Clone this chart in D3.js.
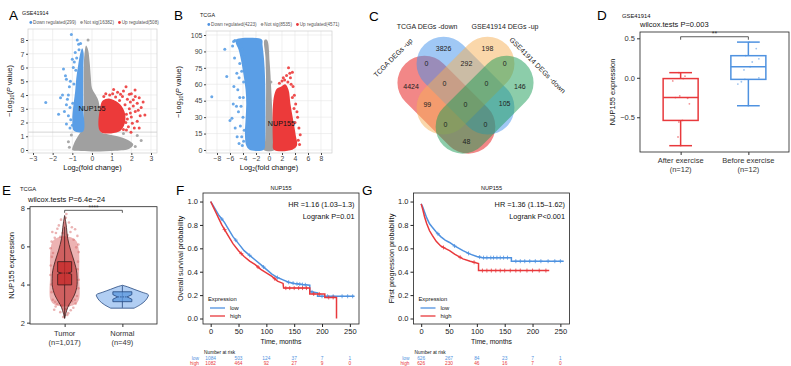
<!DOCTYPE html>
<html>
<head>
<meta charset="utf-8">
<script src="https://cdn.jsdelivr.net/npm/d3@7"></script>
<style>
  body { margin: 0; background: #fff; }
  svg { display: block; font-family: "Liberation Sans", Arial, Helvetica, sans-serif; }
</style>
</head>
<body>
<svg id="fig" width="791" height="366"></svg>
<script>
(function () {
    'use strict';

    var FONT = '"Liberation Sans", Arial, Helvetica, sans-serif';
    var RED = '#e8393c', BLUE = '#4f92e0', GREY = '#a0a0a0';

    // ---------- A: GSE41914 volcano ----------
    var gseLegend = ['Down regulated(299)', 'Not sig(16382)', 'Up regulated(508)'];
    var gseXTicks = [-3, -2, -1, 0, 1, 2, 3];
    var gseYTicks = [0, 1, 2, 3, 4, 5, 6, 7, 8];
    var gseNotSigCloud = [[-1.0, 0.0], [-0.95, 0.35], [-0.8, 0.8], [-0.6, 1.25], [-0.45, 1.6], [-0.42, 3.0], [-0.43, 4.5],
        [-0.42, 6.0], [-0.38, 7.0], [-0.3, 7.6], [-0.2, 7.3], [-0.12, 6.4], [-0.06, 5.3], [0.0, 4.5], [0.15, 4.1],
        [0.3, 3.7], [0.4, 3.0], [0.42, 1.35], [0.8, 1.15], [1.3, 1.0], [1.8, 0.75], [2.1, 0.4], [1.9, 0.1],
        [1.2, -0.05], [0.0, -0.1], [-0.7, -0.05]];
    var gseDownCloud = [[-0.45, 1.35], [-0.92, 1.4], [-1.0, 2.2], [-0.95, 3.2], [-0.86, 4.2], [-0.8, 5.2], [-0.7, 6.2],
        [-0.6, 7.0], [-0.5, 7.4], [-0.43, 7.1], [-0.44, 6.0], [-0.45, 4.5], [-0.44, 3.0]];
    var gseUpCloud = [[0.43, 1.33], [0.43, 3.2], [0.55, 3.6], [0.85, 3.75], [1.15, 3.6], [1.45, 3.3], [1.65, 2.8],
        [1.7, 2.2], [1.6, 1.7], [1.35, 1.33]];
    var gseNotSigPts = [[2.3, 1.05], [2.5, 0.7], [-1.2, 0.6], [-1.05, 1.1], [1.6, 1.2], [2.2, 0.25], [-1.15, 0.2], [-0.2, 8.0]];
    var gseDownPts = [[-2.35, 3.45], [-1.45, 5.9], [-1.35, 5.4], [-1.3, 5.15], [-1.6, 3.8], [-1.5, 4.0], [-1.2, 4.0],
        [-1.25, 3.7], [-1.05, 8.4], [-0.75, 8.0], [-0.68, 7.7], [-0.85, 7.1], [-1.0, 6.6], [-0.95, 6.0], [-1.1, 5.0],
        [-1.15, 4.6], [-1.3, 3.3], [-1.12, 3.1], [-1.4, 2.8], [-1.2, 2.5], [-1.08, 2.2], [-1.3, 1.9], [-1.12, 1.6],
        [-0.98, 3.4], [-0.92, 4.8], [-0.82, 5.8], [-0.66, 7.3], [-0.58, 7.75], [-1.7, 2.6], [-1.0, 1.8], [-0.9, 6.4],
        [-0.78, 6.7]];
    var gseUpPts = [[1.73, 4.6], [2.19, 4.36], [2.69, 2.55], [1.98, 1.3], [2.0, 4.1], [2.2, 3.9], [1.8, 3.7], [1.55, 3.9],
        [1.3, 4.2], [1.1, 4.4], [2.3, 3.4], [2.1, 3.2], [1.9, 3.0], [2.2, 2.8], [1.75, 2.6], [2.0, 2.4], [1.6, 1.5],
        [1.85, 1.7], [2.3, 2.1], [2.5, 3.1], [1.68, 3.3], [1.4, 3.6], [1.6, 4.3], [0.9, 4.0], [0.7, 4.1], [1.2, 3.85],
        [2.05, 1.95], [1.75, 1.45], [2.4, 3.8], [1.95, 3.5], [1.5, 2.9], [1.8, 2.25], [2.15, 1.6], [2.45, 2.5],
        [1.9, 4.05], [1.45, 4.05], [2.1, 3.65], [1.05, 4.1], [2.35, 2.9], [1.95, 2.7], [1.72, 2.0], [1.52, 1.9],
        [2.6, 3.5], [2.4, 1.6], [0.6, 3.9]];
    var gseGene = [[0.0, 3.0, 'NUP155']];

    // ---------- B: TCGA volcano ----------
    var tcgaLegend = ['Down regulated(4223)', 'Not sig(8535)', 'Up regulated(4571)'];
    var tcgaXTicks = [-8, -6, -4, -2, 0, 2, 4, 6, 8];
    var tcgaYTicks = [0, 15, 30, 45, 60, 75, 90, 105];
    var tcgaNotSigCloud = [[-0.8, 0.0], [-0.6, 8], [-0.5, 30], [-0.45, 60], [-0.55, 85], [-0.7, 100.5], [-0.3, 100.5],
        [0.1, 80], [0.35, 55], [0.55, 30], [0.7, 10], [0.85, 0.0]];
    var tcgaDownCloud = [[-5.1, 100.8], [-1.1, 100.8], [-1.0, 96], [-0.75, 82], [-0.6, 65], [-0.55, 45], [-0.55, 25],
        [-0.6, 8], [-0.8, 0.3], [-3.0, 0.3], [-3.5, 4], [-3.7, 14], [-3.6, 28], [-3.5, 42], [-3.6, 55], [-3.9, 68],
        [-4.3, 82], [-4.7, 92], [-5.1, 97.5]];
    var tcgaUpCloud = [[0.75, 0.3], [0.6, 8], [0.55, 25], [0.6, 40], [0.8, 50], [1.2, 56], [1.9, 58], [2.5, 60],
        [3.0, 55], [3.3, 42], [3.7, 28], [4.1, 14], [4.3, 4], [3.6, 0.3]];
    var tcgaDownPts = [[-8.8, 48.7], [-6.8, 92], [-6.5, 67], [-6.0, 27], [-5.7, 29], [-4.5, 79], [-5.4, 58], [-5.2, 20],
        [-4.8, 55], [-4.6, 66], [-4.3, 40], [-4.2, 12], [-4.5, 48], [-4.0, 30], [-4.4, 22], [-4.7, 35], [-3.9, 8],
        [-4.9, 12], [-4.1, 92], [-3.8, 85], [-4.2, 72], [-3.9, 62], [-5.3, 84], [-5.6, 95], [-4.95, 70], [-5.0, 40],
        [-4.1, 4], [-3.8, 18], [-4.6, 6], [-5.5, 42], [-3.95, 48], [-5.25, 100], [-5.45, 99]];
    var tcgaUpPts = [[3.0, 75], [3.6, 71], [2.7, 68], [3.3, 66], [2.4, 64], [3.9, 50], [4.3, 35], [4.6, 20], [4.5, 9],
        [4.1, 42], [3.7, 58], [2.2, 66], [4.8, 14], [3.4, 60], [1.6, 61], [2.0, 63], [4.0, 25], [3.6, 48], [4.4, 30],
        [3.2, 70], [2.9, 62], [4.7, 5], [3.85, 38]];
    var tcgaNotSigPts = [[-0.4, 95], [0.3, 62], [-0.2, 90]];
    var tcgaGene = [[1.9, 24, 'NUP155']];

    // ---------- C: Venn ----------
    var vennSets = ['TCGA DEGs -up', 'TCGA DEGs -down', 'GSE41914 DEGs -up', 'GSE41914 DEGs -down'];
    var vennRegions = ['R', 'B', 'O', 'G', 'RB', 'RO', 'RG', 'BO', 'BG', 'OG', 'RBO', 'RBG', 'ROG', 'BOG', 'RBOG'];
    var vennCounts = [4424, 3826, 198, 146, 0, 99, 48, 292, 105, 0, 0, 0, 0, 0, 0];

    // ---------- D: GSE41914 box plot ----------
    var exerciseGroups = ['After exercise', 'Before exercise'];
    var exerciseN = ['(n=12)', '(n=12)'];
    var exerciseBoxes = [[-0.86, -0.54, -0.25, -0.01, 0.065], [-0.354, -0.02, 0.14, 0.28, 0.452]];
    var afterValues = [0.065, 0.02, -0.04, -0.01, -0.23, -0.26, -0.33, -0.54, -0.56, -0.75, -0.86, -0.25];
    var afterJitter = [-0.1, 0.25, -0.45, 0.15, -0.05, 0.4, 0.5, 0.1, -0.1, -0.15, 0.0, -0.3];
    var beforeValues = [0.452, 0.37, 0.28, 0.24, 0.14, 0.1, 0.0, -0.02, -0.05, -0.08, -0.354, 0.2];
    var beforeJitter = [0.05, 0.45, -0.15, 0.6, 0.1, -0.25, 0.6, -0.2, -0.4, -0.6, 0.0, 0.22];
    var dYTicks = [-0.5, 0.0, 0.5];

    // ---------- E: TCGA violin ----------
    var tissueGroups = ['Tumor', 'Normal'];
    var tissueN = ['(n=1,017)', '(n=49)'];
    var tumorViolin = [[2.22, 0], [2.5, 0.05], [2.8, 0.12], [3.1, 0.24], [3.4, 0.36], [3.7, 0.44], [4.0, 0.48],
        [4.3, 0.48], [4.6, 0.47], [4.9, 0.43], [5.2, 0.37], [5.5, 0.3], [5.8, 0.23], [6.1, 0.17], [6.4, 0.12],
        [6.7, 0.09], [7.0, 0.07], [7.3, 0.04], [7.62, 0]];
    var normalViolin = [[2.76, 0.45], [2.95, 0.7], [3.15, 0.88], [3.35, 0.98], [3.46, 1.0], [3.6, 0.75], [3.75, 0.45],
        [3.88, 0.2], [3.96, 0]];
    var tumorBox = [2.25, 3.98, 4.6, 5.2, 7.03];
    var normalBox = [2.78, 3.1, 3.35, 3.62, 3.94];
    var tumorNotch = 0.06, normalNotch = 0.12;
    var tumorJitterCloud = [[-0.98, 3.2], [-1.0, 4.5], [-0.98, 5.8], [-0.8, 6.3], [-0.3, 6.5], [0.3, 6.5], [0.8, 6.3],
        [0.98, 5.8], [1.0, 4.5], [0.98, 3.2], [0.7, 2.95], [0.0, 2.85], [-0.7, 2.95]];
    var tumorJitter = [[-0.85, 6.75], [0.72, 6.9], [-0.4, 7.1], [0.3, 7.25], [-0.15, 6.7], [0.88, 6.55], [-0.68, 6.45],
        [0.5, 7.0], [0.08, 7.5], [-0.5, 6.92], [0.2, 6.6], [-0.3, 6.5], [0.62, 6.35], [-0.9, 6.25], [0.95, 6.1],
        [-0.97, 5.9], [0.97, 5.7], [-0.88, 5.45], [0.92, 5.2], [-0.96, 5.0], [0.9, 4.8], [-0.98, 4.5], [0.97, 4.25],
        [-0.92, 4.0], [0.95, 3.8], [-0.9, 3.6], [0.85, 3.4], [-0.82, 3.2], [0.76, 3.0], [-0.62, 2.85], [0.42, 2.65],
        [-0.3, 2.55], [0.18, 2.4], [0.6, 2.78], [-0.5, 2.98], [0.05, 2.7], [-0.72, 2.68], [0.5, 3.12], [-0.18, 2.9],
        [0.3, 2.9], [-0.1, 2.3], [0.12, 7.7], [-0.25, 7.4], [0.4, 6.75], [-0.6, 6.7], [0.8, 5.95], [-0.8, 5.65],
        [0.7, 3.2], [-0.65, 3.1], [0.25, 2.5]];
    var eYTicks = [2, 4, 6, 8];

    // ---------- F / G: Kaplan-Meier ----------
    var kmXTicks = [0, 50, 100, 150, 200, 250];
    var kmYTicks = [0, 0.2, 0.4, 0.6, 0.8, 1.0];
    var fLowT = [0, 5, 10, 15, 20, 25, 30, 40, 50, 60, 70, 80, 90, 100, 110, 120, 130, 140, 150, 165, 178, 178, 192, 192, 258];
    var fLowS = [1.0, 0.96, 0.92, 0.88, 0.85, 0.82, 0.78, 0.70, 0.64, 0.58, 0.54, 0.50, 0.46, 0.42, 0.38, 0.35, 0.33,
        0.31, 0.30, 0.29, 0.285, 0.23, 0.22, 0.19, 0.19];
    var fHighT = [0, 5, 10, 15, 20, 25, 30, 40, 50, 60, 70, 80, 90, 100, 110, 120, 130, 131, 178, 178, 205, 205, 226, 226];
    var fHighS = [1.0, 0.95, 0.90, 0.85, 0.80, 0.76, 0.72, 0.64, 0.58, 0.53, 0.49, 0.46, 0.42, 0.39, 0.36, 0.32, 0.30,
        0.26, 0.26, 0.21, 0.21, 0.18, 0.18, 0.0];
    var fLowCens = [20, 45, 70, 95, 120, 140, 148, 155, 160, 165, 170, 182, 200, 210, 220, 236, 246, 255];
    var fHighCens = [25, 55, 85, 115, 135, 142, 150, 158, 165, 172, 185, 195, 212, 220];
    var fRiskLow = [1084, 503, 124, 37, 7, 1];
    var fRiskHigh = [1082, 464, 92, 27, 9, 0];
    var gLowT = [0, 3, 6, 10, 15, 20, 27, 35, 43, 51, 60, 75, 88, 100, 110, 120, 162, 162, 256];
    var gLowS = [0.98, 0.95, 0.91, 0.86, 0.81, 0.78, 0.74, 0.70, 0.67, 0.65, 0.62, 0.58, 0.55, 0.53, 0.52, 0.52, 0.52,
        0.49, 0.49];
    var gHighT = [0, 3, 6, 10, 15, 20, 27, 35, 43, 51, 60, 75, 88, 103, 103, 230];
    var gHighS = [0.98, 0.93, 0.87, 0.81, 0.75, 0.71, 0.66, 0.62, 0.60, 0.58, 0.55, 0.51, 0.49, 0.47, 0.41, 0.41];
    var gLowCens = [30, 60, 85, 105, 112, 118, 125, 130, 136, 142, 148, 155, 170, 178, 186, 195, 205, 215, 228, 240, 250];
    var gHighCens = [40, 70, 95, 110, 118, 126, 134, 142, 150, 160, 170, 178, 190, 200, 212, 224];
    var gRiskLow = [626, 267, 84, 23, 7, 1];
    var gRiskHigh = [626, 230, 46, 16, 7, 0];

    var svg = d3.select('#fig');

    function text(g, x, y, s, size, anchor, fill) {
        return g.append('text').attr('x', x).attr('y', y).attr('font-size', size)
            .attr('text-anchor', anchor || 'start').attr('fill', fill || '#111').text(s);
    }

    function styleAxis(ax, size, color) {
        ax.attr('font-family', FONT).attr('font-size', size);
        ax.selectAll('text').attr('fill', color || '#333');
        ax.selectAll('line').attr('stroke', color || '#333');
    }

    function panelLabel(s, x, y) {
        text(svg, x, y, s, 13.5, 'start', '#000');
    }

    // ---------- volcano ----------
    function volcano(cfg) {
        var g = svg.append('g');
        var x = d3.scaleLinear().domain(cfg.xDom).range([cfg.left, cfg.right]);
        var y = d3.scaleLinear().domain(cfg.yDom).range([cfg.bottom, cfg.top]);
        var clipId = 'clip' + cfg.id;
        g.append('clipPath').attr('id', clipId).append('rect')
            .attr('x', cfg.left).attr('y', cfg.top)
            .attr('width', cfg.right - cfg.left).attr('height', cfg.bottom - cfg.top);

        g.selectAll('.vgrid').data(cfg.xTicks).enter().append('line')
            .attr('x1', function (d) { return x(d); }).attr('x2', function (d) { return x(d); })
            .attr('y1', cfg.top).attr('y2', cfg.bottom)
            .attr('stroke', '#e6e6e6').attr('stroke-width', 0.6);
        g.selectAll('.hgrid').data(cfg.yTicks).enter().append('line')
            .attr('y1', function (d) { return y(d); }).attr('y2', function (d) { return y(d); })
            .attr('x1', cfg.left).attr('x2', cfg.right)
            .attr('stroke', '#e6e6e6').attr('stroke-width', 0.6);

        var plot = g.append('g').attr('clip-path', 'url(#' + clipId + ')');
        if (cfg.thresholds) {
            plot.append('line').attr('x1', cfg.left).attr('x2', cfg.right)
                .attr('y1', y(cfg.thresholds.p)).attr('y2', y(cfg.thresholds.p))
                .attr('stroke', '#bbb').attr('stroke-width', 0.6);
        }
        var cloud = d3.line()
            .x(function (d) { return x(d[0]); })
            .y(function (d) { return y(d[1]); })
            .curve(d3.curveCatmullRomClosed.alpha(0.5));
        cfg.series.forEach(function (s) {
            plot.append('path').attr('d', cloud(s.cloud)).attr('fill', s.color);
            plot.selectAll(null).data(s.pts).enter().append('circle')
                .attr('cx', function (d) { return x(d[0]); })
                .attr('cy', function (d) { return y(d[1]); })
                .attr('r', 1.5).attr('fill', s.color).attr('fill-opacity', 0.9);
        });
        cfg.genes.forEach(function (d) {
            text(g, x(d[0]), y(d[1]) + 2.5, d[2], 7.2, 'middle', '#111');
        });

        g.append('rect').attr('x', cfg.left).attr('y', cfg.top)
            .attr('width', cfg.right - cfg.left).attr('height', cfg.bottom - cfg.top)
            .attr('fill', 'none').attr('stroke', '#cfcfcf').attr('stroke-width', 0.7);

        var ax = g.append('g').attr('transform', 'translate(0,' + cfg.bottom + ')')
            .call(d3.axisBottom(x).tickValues(cfg.xTicks).tickSize(2).tickPadding(1)
                .tickFormat(d3.format('d')));
        ax.select('.domain').remove();
        styleAxis(ax, 6.8, '#444');
        var ay = g.append('g').attr('transform', 'translate(' + cfg.left + ',0)')
            .call(d3.axisLeft(y).tickValues(cfg.yTicks).tickSize(2).tickPadding(1.5)
                .tickFormat(d3.format('d')));
        ay.select('.domain').remove();
        styleAxis(ay, 7, '#444');

        // x title: Log2(fold change)
        var xt = g.append('text').attr('x', (cfg.left + cfg.right) / 2).attr('y', cfg.bottom + 16.5)
            .attr('text-anchor', 'middle').attr('font-size', 7.4).attr('fill', '#111');
        xt.append('tspan').text('Log');
        xt.append('tspan').attr('font-size', 5).attr('dy', 1.8).text('2');
        xt.append('tspan').attr('dy', -1.8).text('(fold change)');
        // y title: -Log10(P value)
        var yt = g.append('text').attr('transform', 'translate(' + cfg.yTitleX + ',' + ((cfg.top + cfg.bottom) / 2) + ') rotate(-90)')
            .attr('text-anchor', 'middle').attr('font-size', 7.4).attr('fill', '#111');
        yt.append('tspan').text('\u2212Log');
        yt.append('tspan').attr('font-size', 5).attr('dy', 2).text('10');
        yt.append('tspan').attr('dy', -2).text('(');
        yt.append('tspan').attr('font-style', 'italic').text('P');
        yt.append('tspan').text(' value)');

        // legend
        var lx = cfg.left + 1.5, ly = cfg.top - 5;
        var colors = [BLUE, GREY, RED];
        cfg.legend.forEach(function (s, i) {
            g.append('circle').attr('cx', lx + 1.3).attr('cy', ly - 1.5).attr('r', 1.4).attr('fill', colors[i]);
            var t = text(g, lx + 3.6, ly, s, 4.6, 'start', '#555');
            lx += 3.6 + t.node().getComputedTextLength() + 4.2;
        });
        text(g, cfg.left - 6, cfg.top - 14, cfg.title, 5.4, 'start', '#111');
    }

    volcano({
        id: 'A', left: 28, right: 157, top: 29, bottom: 153,
        xDom: [-3.254, 3.305], yDom: [-0.218, 8.8],
        xTicks: gseXTicks, yTicks: gseYTicks, yTitleX: 12,
        thresholds: { p: 1.3 },
        legend: gseLegend, title: 'GSE41914',
        series: [
            { cloud: gseNotSigCloud, pts: gseNotSigPts, color: GREY },
            { cloud: gseDownCloud, pts: gseDownPts, color: '#5a9ee6' },
            { cloud: gseUpCloud, pts: gseUpPts, color: '#ec3a3a' }
        ],
        genes: gseGene
    });
    volcano({
        id: 'B', left: 206, right: 332, top: 31, bottom: 153,
        xDom: [-9.69, 9.69], yDom: [-2.74, 108.65],
        xTicks: tcgaXTicks, yTicks: tcgaYTicks, yTitleX: 181,
        legend: tcgaLegend, title: 'TCGA',
        series: [
            { cloud: tcgaNotSigCloud, pts: tcgaNotSigPts, color: GREY },
            { cloud: tcgaDownCloud, pts: tcgaDownPts, color: '#5a9ee6' },
            { cloud: tcgaUpCloud, pts: tcgaUpPts, color: '#ec3a3a' }
        ],
        genes: tcgaGene
    });

    // ---------- C: Venn ----------
    (function () {
        var k = 27, cx = 465.5, cy = 104.7;
        var vg = svg.append('g').attr('transform', 'translate(' + cx + ',' + cy + ') rotate(-45)');
        // capsule layout in rotated units: vertical strips for TCGA, horizontal for GSE41914
        var shapes = [
            { x: -1.5, y: -2.65, w: 2, h: 4.3, color: '#e83030', op: 0.58 },
            { x: -0.5, y: -2.65, w: 2, h: 4.3, color: '#4191eb', op: 0.5 },
            { x: -1.65, y: -1.5, w: 4.3, h: 2, color: '#f5af55', op: 0.5 },
            { x: -1.65, y: -0.5, w: 4.3, h: 2, color: '#199b55', op: 0.5 }
        ];
        vg.selectAll('rect').data(shapes).enter().append('rect')
            .attr('x', function (d) { return d.x * k; }).attr('y', function (d) { return d.y * k; })
            .attr('width', function (d) { return d.w * k; }).attr('height', function (d) { return d.h * k; })
            .attr('rx', k).attr('ry', k)
            .attr('fill', function (d) { return d.color; })
            .attr('fill-opacity', function (d) { return d.op; });
        var regionPos = {
            R: [-0.95, -1.9], B: [0.9, -2.05], O: [2.05, -0.9], G: [1.9, 0.95],
            RB: [0.05, -2.1], RO: [-1, -1], RG: [-0.95, 1.0], BO: [1.1, -1.05], BG: [1.05, 1.0], OG: [2.1, -0.05],
            RBO: [0, -1.1], RBG: [0, 1.05], ROG: [-1.05, 0], BOG: [1.1, 0], RBOG: [0, 0]
        };
        vennRegions.forEach(function (r, i) {
            var p = regionPos[r];
            vg.append('text')
                .attr('transform', 'translate(' + p[0] * k + ',' + p[1] * k + ') rotate(45)')
                .attr('text-anchor', 'middle').attr('dy', '0.35em')
                .attr('font-size', 7).attr('fill', '#222').text(vennCounts[i]);
        });
        var setLabels = [
            { dx: -52.5, dy: -63.5, rot: -45, anchor: 'end' },
            { dx: -38.5, dy: -75.5, rot: 0, anchor: 'middle' },
            { dx: 39.5, dy: -75.5, rot: 0, anchor: 'middle' },
            { dx: 43.5, dy: -64.5, rot: 45, anchor: 'start' }
        ];
        vennSets.forEach(function (s, i) {
            var l = setLabels[i];
            svg.append('text')
                .attr('transform', 'translate(' + (cx + l.dx) + ',' + (cy + l.dy) + ') rotate(' + l.rot + ')')
                .attr('text-anchor', l.anchor).attr('font-size', 7).attr('fill', '#222').text(s);
        });
    })();

    // ---------- D: box plot ----------
    (function () {
        var left = 640, right = 789, top = 32, bottom = 152;
        var g = svg.append('g');
        var x = d3.scalePoint().domain(exerciseGroups).range([left, right]).padding(0.6);
        var y = d3.scaleLinear().domain([-0.94, 0.58]).range([bottom, top]);
        var colors = [RED, BLUE];
        var halfW = 17.5;
        var groupsPts = [[afterValues, afterJitter], [beforeValues, beforeJitter]];

        exerciseGroups.forEach(function (grp, i) {
            var b = exerciseBoxes[i], cx = x(grp), c = colors[i];
            g.append('line').attr('x1', cx).attr('x2', cx).attr('y1', y(b[0])).attr('y2', y(b[4]))
                .attr('stroke', c).attr('stroke-width', 1.5);
            [b[0], b[4]].forEach(function (v) {
                g.append('line').attr('x1', cx - halfW * 0.65).attr('x2', cx + halfW * 0.65)
                    .attr('y1', y(v)).attr('y2', y(v)).attr('stroke', c).attr('stroke-width', 1.5);
            });
            g.append('rect').attr('x', cx - halfW).attr('width', 2 * halfW)
                .attr('y', y(b[3])).attr('height', y(b[1]) - y(b[3]))
                .attr('fill', '#fff').attr('stroke', c).attr('stroke-width', 1.5);
            g.append('line').attr('x1', cx - halfW).attr('x2', cx + halfW)
                .attr('y1', y(b[2])).attr('y2', y(b[2])).attr('stroke', c).attr('stroke-width', 1.5);
            var pts = groupsPts[i];
            g.selectAll(null).data(pts[0]).enter().append('circle')
                .attr('cx', function (d, j) { return cx + pts[1][j] * halfW; })
                .attr('cy', function (d) { return y(d); })
                .attr('r', 0.9).attr('fill', c).attr('fill-opacity', 0.55);
        });

        g.append('rect').attr('x', left).attr('y', top).attr('width', right - left).attr('height', bottom - top)
            .attr('fill', 'none').attr('stroke', '#222').attr('stroke-width', 0.8);
        var ay = g.append('g').attr('transform', 'translate(' + left + ',0)')
            .call(d3.axisLeft(y).tickValues(dYTicks).tickSize(3).tickPadding(2).tickFormat(d3.format('.1f')));
        ay.select('.domain').remove();
        styleAxis(ay, 7.5, '#333');
        var ax = g.append('g').attr('transform', 'translate(0,' + bottom + ')')
            .call(d3.axisBottom(x).tickSize(3).tickFormat(function () { return ''; }));
        ax.select('.domain').remove();
        styleAxis(ax, 7.5, '#333');
        exerciseGroups.forEach(function (grp, i) {
            text(g, x(grp), 163, grp, 7.5, 'middle', '#333');
            text(g, x(grp), 171.5, exerciseN[i], 7.5, 'middle', '#333');
        });
        text(g, 615, (top + bottom) / 2, 'NUP155 expression', 7.5, 'middle', '#111')
            .attr('transform', 'rotate(-90,615,' + ((top + bottom) / 2) + ')');
        // significance bracket
        var by = y(0.52);
        g.append('path').attr('d', 'M' + x(exerciseGroups[0]) + ',' + (by + 3) + 'V' + by + 'H' + x(exerciseGroups[1]) + 'V' + (by + 3))
            .attr('fill', 'none').attr('stroke', '#333').attr('stroke-width', 0.8);
        text(g, (x(exerciseGroups[0]) + x(exerciseGroups[1])) / 2, by - 0.5, '**', 7, 'middle', '#333');
        text(g, left, 27, 'wilcox.tests P=0.003', 7.5, 'start', '#111');
        text(g, 622, 17.5, 'GSE41914', 5.8, 'start', '#111');
    })();

    // ---------- E: violin ----------
    (function () {
        var left = 30, right = 157, top = 206.7, bottom = 324;
        var g = svg.append('g');
        var x = d3.scalePoint().domain(tissueGroups).range([left, right]).padding(0.6);
        var y = d3.scaleLinear().domain([1.93, 8.08]).range([bottom, top]);
        var w = d3.scaleLinear().domain([0, 1]).range([0, 26]);
        var jit = 14.5;
        var tx = x('Tumor'), nx = x('Normal');

        var cloud = d3.line()
            .x(function (d) { return tx + d[0] * jit; }).y(function (d) { return y(d[1]); })
            .curve(d3.curveCatmullRomClosed.alpha(0.5));
        g.append('path').attr('d', cloud(tumorJitterCloud)).attr('fill', '#e79a9a').attr('fill-opacity', 0.75);
        g.selectAll(null).data(tumorJitter).enter().append('circle')
            .attr('cx', function (d) { return tx + d[0] * jit; }).attr('cy', function (d) { return y(d[1]); })
            .attr('r', 1.3).attr('fill', '#d86a6a').attr('fill-opacity', 0.5);

        function violin(data, cx, fill, fillOp, stroke) {
            var area = d3.area()
                .y(function (d) { return y(d[0]); })
                .x0(function (d) { return cx - w(d[1]); })
                .x1(function (d) { return cx + w(d[1]); })
                .curve(d3.curveCatmullRom);
            g.append('path').attr('d', area(data)).attr('fill', fill).attr('fill-opacity', fillOp)
                .attr('stroke', stroke).attr('stroke-width', 0.8);
        }
        function notchedBox(b, notch, cx, hw, fill, stroke) {
            var l = cx - hw, r = cx + hw, ins = hw * 0.5;
            g.append('line').attr('x1', cx).attr('x2', cx).attr('y1', y(b[0])).attr('y2', y(b[4]))
                .attr('stroke', stroke).attr('stroke-width', 0.8);
            var p = 'M' + l + ',' + y(b[3]) + 'H' + r + 'V' + y(b[2] + notch) + 'L' + (r - ins) + ',' + y(b[2]) +
                'L' + r + ',' + y(b[2] - notch) + 'V' + y(b[1]) + 'H' + l + 'V' + y(b[2] - notch) +
                'L' + (l + ins) + ',' + y(b[2]) + 'L' + l + ',' + y(b[2] + notch) + 'Z';
            g.append('path').attr('d', p).attr('fill', fill).attr('fill-opacity', 0.75)
                .attr('stroke', stroke).attr('stroke-width', 0.8);
            g.append('line').attr('x1', l + ins).attr('x2', r - ins).attr('y1', y(b[2])).attr('y2', y(b[2]))
                .attr('stroke', stroke).attr('stroke-width', 0.8).attr('stroke-dasharray', '1.5,1');
        }
        violin(tumorViolin, tx, '#b71c1c', 0.55, '#3a1c1c');
        notchedBox(tumorBox, tumorNotch, tx, 7, '#c62828', '#3a1c1c');
        violin(normalViolin, nx, '#a9c9f2', 0.9, '#23467d');
        notchedBox(normalBox, normalNotch, nx, 9.5, '#5b97de', '#23467d');

        g.append('rect').attr('x', left).attr('y', top).attr('width', right - left).attr('height', bottom - top)
            .attr('fill', 'none').attr('stroke', '#222').attr('stroke-width', 0.8);
        var ay = g.append('g').attr('transform', 'translate(' + left + ',0)')
            .call(d3.axisLeft(y).tickValues(eYTicks).tickSize(3).tickPadding(2).tickFormat(d3.format('d')));
        ay.select('.domain').remove();
        styleAxis(ay, 7.5, '#333');
        var ax = g.append('g').attr('transform', 'translate(0,' + bottom + ')')
            .call(d3.axisBottom(x).tickSize(3).tickFormat(function () { return ''; }));
        ax.select('.domain').remove();
        styleAxis(ax, 7.5, '#333');
        tissueGroups.forEach(function (grp, i) {
            text(g, x(grp), 335.5, grp, 7.5, 'middle', '#333');
            text(g, x(grp), 344.5, tissueN[i], 7.5, 'middle', '#333');
        });
        var my = (top + bottom) / 2;
        text(g, 14, my, 'NUP155 expression', 7.5, 'middle', '#111').attr('transform', 'rotate(-90,14,' + my + ')');
        var by = y(7.89);
        g.append('path').attr('d', 'M' + tx + ',' + (by + 2.5) + 'V' + by + 'H' + nx + 'V' + (by + 2.5))
            .attr('fill', 'none').attr('stroke', '#333').attr('stroke-width', 0.8);
        text(g, (tx + nx) / 2, by - 0.3, '****', 6.5, 'middle', '#333');
        text(g, 28, 202, 'wilcox.tests P=6.4e\u221224', 7.5, 'start', '#111');
        text(g, 20, 190.5, 'TCGA', 5.8, 'start', '#111');
    })();

    // ---------- F / G: Kaplan-Meier ----------
    function kmPanel(cfg) {
        var left = cfg.left, right = left + 156, top = 193, bottom = 324;
        var g = svg.append('g');
        var x = d3.scaleLinear().domain([-13.8, 266.4]).range([left, right]);
        var y = d3.scaleLinear().domain([-0.047, 1.073]).range([bottom, top]);
        var line = d3.line().x(function (d) { return x(d[0]); }).y(function (d) { return y(d[1]); });
        var curves = [
            { t: cfg.lowT, s: cfg.lowS, cens: cfg.lowCens, color: BLUE },
            { t: cfg.highT, s: cfg.highS, cens: cfg.highCens, color: RED }
        ];
        curves.forEach(function (c) {
            var pts = c.t.map(function (t, i) { return [t, c.s[i]]; });
            g.append('path').attr('d', line(pts)).attr('fill', 'none')
                .attr('stroke', c.color).attr('stroke-width', 1.5);
            var at = d3.scaleLinear().domain(c.t).range(c.s).clamp(true);
            c.cens.forEach(function (t) {
                var px = x(t), py = y(at(t));
                g.append('path').attr('d', 'M' + (px - 2) + ',' + py + 'H' + (px + 2) + 'M' + px + ',' + (py - 2) + 'V' + (py + 2))
                    .attr('stroke', c.color).attr('stroke-width', 0.8);
            });
        });

        g.append('rect').attr('x', left).attr('y', top).attr('width', right - left).attr('height', bottom - top)
            .attr('fill', 'none').attr('stroke', '#222').attr('stroke-width', 0.8);
        var ax = g.append('g').attr('transform', 'translate(0,' + bottom + ')')
            .call(d3.axisBottom(x).tickValues(kmXTicks).tickSize(3).tickPadding(2).tickFormat(d3.format('d')));
        ax.select('.domain').remove();
        styleAxis(ax, 7.5, '#222');
        var ay = g.append('g').attr('transform', 'translate(' + left + ',0)')
            .call(d3.axisLeft(y).tickValues(kmYTicks).tickSize(3).tickPadding(2).tickFormat(d3.format('.1f')));
        ay.select('.domain').remove();
        styleAxis(ay, 7.5, '#222');

        text(g, (left + right) / 2, 190, 'NUP155', 5.6, 'middle', '#111');
        text(g, right - 4.5, 207, cfg.hr, 7.3, 'end', '#111');
        text(g, right - 4.5, 219, cfg.p, 7.3, 'end', '#111');
        text(g, (left + right) / 2, 344, 'Time, months', 6.8, 'middle', '#111');
        var my = (top + bottom) / 2;
        text(g, left - 20, my, cfg.yTitle, 7.3, 'middle', '#111')
            .attr('transform', 'rotate(-90,' + (left - 20) + ',' + my + ')');

        text(g, left + 5, 301, 'Expression', 5.8, 'start', '#111');
        [['low', BLUE, 308], ['high', RED, 316]].forEach(function (l) {
            g.append('line').attr('x1', left + 7).attr('x2', left + 22).attr('y1', l[2]).attr('y2', l[2])
                .attr('stroke', l[1]).attr('stroke-width', 1.3);
            text(g, left + 27, l[2] + 2, l[0], 5.8, 'start', '#111');
        });

        text(g, left + 1, 354, 'Number at risk', 4.8, 'start', '#111');
        [['low', BLUE, cfg.riskLow, 359.5], ['high', RED, cfg.riskHigh, 364.5]].forEach(function (r) {
            text(g, left - 4, r[3], r[0], 4.8, 'end', r[1]);
            g.selectAll(null).data(r[2]).enter().append('text')
                .attr('x', function (d, i) { return x(kmXTicks[i]); }).attr('y', r[3])
                .attr('text-anchor', 'middle').attr('font-size', 4.8).attr('fill', r[1])
                .text(function (d) { return d; });
        });
    }

    kmPanel({
        left: 203, yTitle: 'Overall survival probability',
        hr: 'HR =1.16 (1.03\u20131.3)', p: 'Logrank P=0.01',
        lowT: fLowT, lowS: fLowS, highT: fHighT, highS: fHighS,
        lowCens: fLowCens, highCens: fHighCens, riskLow: fRiskLow, riskHigh: fRiskHigh
    });
    kmPanel({
        left: 413.5, yTitle: 'First progression probability',
        hr: 'HR =1.36 (1.15\u20131.62)', p: 'Logrank P<0.001',
        lowT: gLowT, lowS: gLowS, highT: gHighT, highS: gHighS,
        lowCens: gLowCens, highCens: gHighCens, riskLow: gRiskLow, riskHigh: gRiskHigh
    });

    panelLabel('A', 9, 19.5);
    panelLabel('B', 174, 19.5);
    panelLabel('C', 369, 21);
    panelLabel('D', 597, 19.5);
    panelLabel('E', 2, 195);
    panelLabel('F', 176, 195);
    panelLabel('G', 362, 195);
})();
</script>
</body>
</html>
